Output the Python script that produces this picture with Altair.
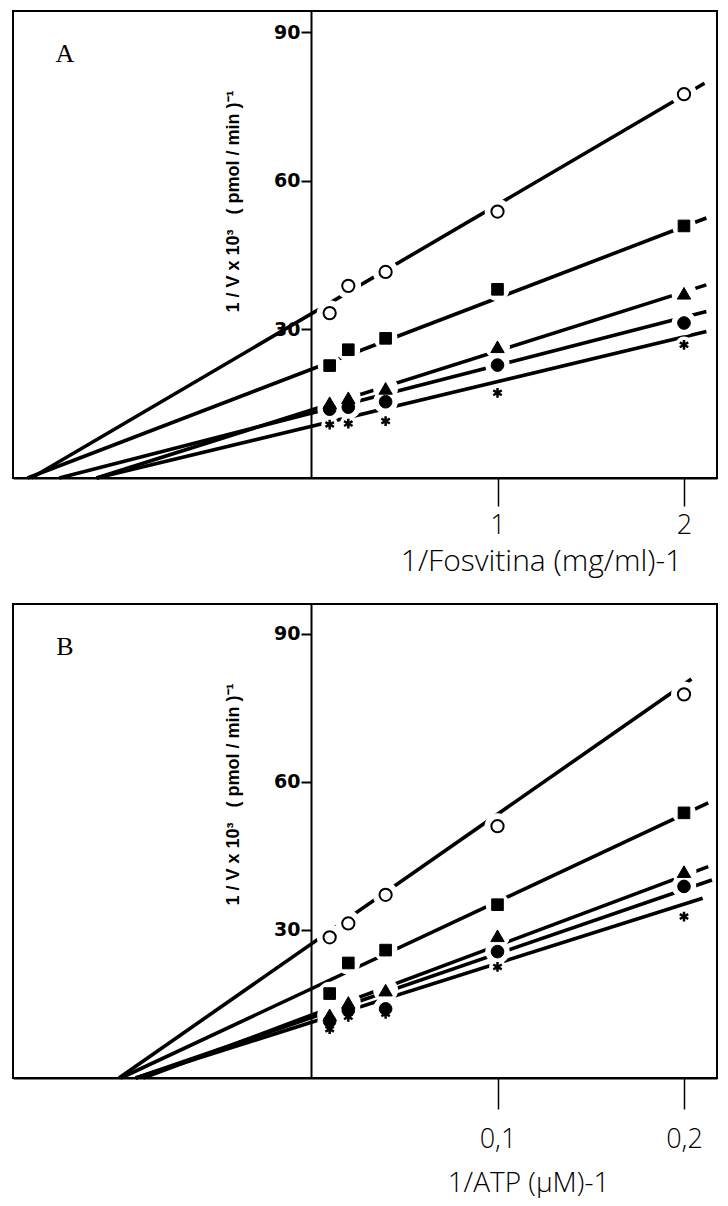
import altair as alt
import pandas as pd

SERIES = ["open", "square", "triangle", "circle", "star"]

# ---------------- Panel A : 1/Fosvitina ----------------
a_x = [0.1, 0.2, 0.4, 1.0, 2.0]
a_open = [33.3, 38.8, 41.6, 53.8, 77.5]
a_square = [22.7, 25.9, 28.2, 38.1, 50.9]
a_triangle = [15.2, 16.2, 18.1, 26.5, 37.3]
a_circle = [13.9, 14.3, 15.4, 22.8, 31.3]
a_star = [10.8, 11.0, 11.5, 17.2, 26.9]
# regression lines: x where 1/V = 0, and right end point
a_line_x0 = [-1.50, -1.52, -1.15, -1.35, -1.15]
a_line_x1 = [2.11, 2.12, 2.12, 2.12, 2.12]
a_line_y1 = [79.7, 52.5, 39.0, 33.6, 29.6]
a_ticks = [1, 2]

# ---------------- Panel B : 1/ATP ----------------
b_x = [0.01, 0.02, 0.04, 0.1, 0.2]
b_open = [28.5, 31.3, 37.1, 51.0, 77.7]
b_square = [17.1, 23.3, 25.9, 35.1, 53.7]
b_triangle = [12.8, 15.3, 17.8, 28.8, 41.8]
b_circle = [11.5, 13.7, 14.0, 25.6, 38.8]
b_star = [9.9, 12.4, 13.0, 22.5, 32.7]
b_line_x0 = [-0.103, -0.102, -0.090, -0.094, -0.094]
b_line_x1 = [0.204, 0.213, 0.213, 0.215, 0.210]
b_line_y1 = [80.8, 55.7, 42.8, 40.1, 36.4]
b_ticks = [0.1, 0.2]

y_ticks = [30, 60, 90]
Y_TITLE = "1 / V x 10³\u00a0\u00a0\u00a0(\u00a0pmol / min\u00a0)⁻¹"

W = 704
ASTERISK = "M0,-1L0,1M-0.87,-0.5L0.87,0.5M-0.87,0.5L0.87,-0.5"


def oscale(rng):
    return alt.Scale(type="ordinal", domain=SERIES, range=rng)


def panel(xs, series_vals, lx0, lx1, ly1, xdom, ydom, ticks, xtitle, letter,
          h, tick_size, lab_pad, title_pad, title_x, title_size, label_expr):
    rows = []
    for s, vals in zip(SERIES, series_vals):
        for xv, yv in zip(xs, vals):
            rows.append({"series": s, "x": xv, "y": yv})
    pts = pd.DataFrame(rows)
    lrows = []
    for s, x0, x1, y1 in zip(SERIES, lx0, lx1, ly1):
        lrows.append({"series": s, "x": x0, "y": 0.0})
        lrows.append({"series": s, "x": x1, "y": y1})
    lines = pd.DataFrame(lrows)

    yoff = (0 - xdom[0]) / (xdom[1] - xdom[0]) * W

    x_enc = alt.X(
        "x:Q",
        scale=alt.Scale(domain=xdom, nice=False, zero=False),
        axis=alt.Axis(
            values=ticks, title=xtitle, grid=False, domain=True,
            domainColor="black", domainWidth=2,
            ticks=True, tickSize=tick_size, tickColor="black", tickWidth=1.5,
            labelFont="Open Sans", labelFontWeight=300, labelFontSize=27,
            labelColor="black", labelPadding=lab_pad, labelExpr=label_expr,
            titleFont="Open Sans", titleFontWeight=300, titleFontSize=title_size,
            titleColor="black", titlePadding=title_pad, titleX=title_x,
            titleAnchor="middle", labelFlush=False,
        ),
    )
    y_enc = alt.Y(
        "y:Q",
        scale=alt.Scale(domain=ydom, nice=False, zero=False),
        axis=alt.Axis(
            orient="left", offset=-yoff, values=y_ticks, title=Y_TITLE,
            grid=False, domain=True, domainColor="black", domainWidth=2,
            ticks=True, tickSize=10, tickColor="black", tickWidth=2,
            labelFont="DejaVu Sans", labelFontWeight="bold",
            labelFontSize=19, labelColor="black", labelPadding=1,
            titleFont="Liberation Sans", titleFontWeight="bold",
            titleFontSize=18, titleColor="black", titleX=-78, titleY=190,
            titleAngle=270, titleAlign="center", titleBaseline="middle",
        ),
    )

    line_layer = alt.Chart(lines).mark_line(
        color="black", strokeWidth=3.6, strokeCap="butt"
    ).encode(x=x_enc, y=y_enc, detail="series:N")

    halo = alt.Chart(pts).mark_point(
        filled=True, shape="circle", color="white", opacity=1
    ).encode(
        x=x_enc, y=y_enc,
        size=alt.Size("series:N", scale=oscale([660, 560, 620, 600, 280]), legend=None),
    )

    markers = alt.Chart(pts).mark_point(filled=True, opacity=1, stroke="black").encode(
        x=x_enc, y=y_enc,
        shape=alt.Shape("series:N", scale=oscale(["circle", "square", "triangle-up", "circle", ASTERISK]), legend=None),
        fill=alt.Fill("series:N", scale=oscale(["white", "black", "black", "black", "black"]), legend=None),
        size=alt.Size("series:N", scale=oscale([150, 135, 180, 160, 95]), legend=None),
        strokeWidth=alt.StrokeWidth("series:N", scale=oscale([2, 1, 1, 1, 2.5]), legend=None),
    )

    lab = alt.Chart(pd.DataFrame({"label": [letter]})).mark_text(
        font="Liberation Serif", fontSize=26, color="black", align="center", baseline="middle"
    ).encode(x=alt.value(52), y=alt.value(43), text="label:N")

    return alt.layer(line_layer, halo, markers, lab).resolve_scale(
        size="independent"
    ).properties(width=W, height=h)


xa = [-1.598, 2.177]
xb = [-0.1598, 0.2177]

chart_a = panel(a_x, [a_open, a_square, a_triangle, a_circle, a_star],
                a_line_x0, a_line_x1, a_line_y1, xa, [0, 94.3], a_ticks,
                "1/Fosvitina (mg/ml)-1", "A", 467, 28, 6, 8, 528, 30,
                "datum.label")
chart_b = panel(b_x, [b_open, b_square, b_triangle, b_circle, b_star],
                b_line_x0, b_line_x1, b_line_y1, xb, [0, 96.0], b_ticks,
                "1/ATP (µM)-1", "B", 474, 31, 17, 17, 515, 28,
                "replace(datum.label, '.', ',')")

chart = alt.vconcat(chart_a, chart_b, spacing=26).properties(
    padding={"left": 12, "top": 10, "right": 0, "bottom": 0},
    background="white",
).configure_view(stroke="black", strokeWidth=2)

chart.save("out.html", embed_options={"renderer": "svg", "actions": False})
